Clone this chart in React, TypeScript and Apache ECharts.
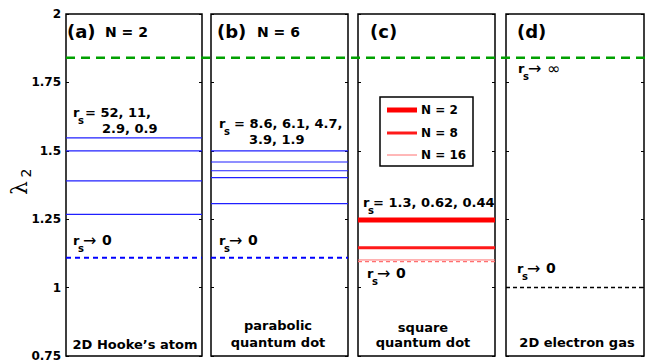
import React, { useEffect, useRef } from 'react';
import * as echarts from 'echarts';

// ---- data ----
const hookeLevels = [1.547, 1.5, 1.39, 1.268];
const parabolicLevels = [1.5, 1.459, 1.427, 1.402, 1.307];
const squareLevels = [1.247, 1.146, 1.101];
const squareNames = ['N = 2', 'N = 8', 'N = 16'];
const smallRsLimits = [1.109, 1.109, 1.095, 1.0];
const largeRsLimit = 1.84;
const yMin = 0.75;
const yMax = 2;
const yStep = 0.25;

// ---- layout / style ----
const panelLeft = [66, 211, 358, 506];
const panelWidth = [136, 137, 137, 138];
const TOP = 14;
const HEIGHT = 342;
const squareWidths = [5, 3, 1];
const squareColors = ['#ff0000', '#ff1a1a', '#ff7070'];
const FONT = 'DejaVu Sans';

function hline(gridIndex: number, v: number, color: string, width: number, type: any, z = 2) {
  return {
    type: 'line',
    xAxisIndex: gridIndex,
    yAxisIndex: gridIndex * 2,
    data: [[0, v], [1, v]],
    symbol: 'none',
    silent: true,
    z,
    lineStyle: { color, width, type },
  };
}

function txt(x: number, y: number, text: string, size = 13, extra: any = {}) {
  return {
    type: 'text',
    x,
    y,
    z: 100,
    style: {
      text,
      fontFamily: FONT,
      fontWeight: 'bold',
      fontSize: size,
      fill: '#000',
      align: 'left',
      verticalAlign: 'middle',
      ...extra,
    },
  };
}

function rs(x: number, y: number) {
  return [txt(x, y, 'r', 13), txt(x + 5, y + 8, 's', 10)];
}

function arrowTo(x: number, y: number, target: string, targetSize = 14, bold = true) {
  return [
    ...rs(x, y),
    txt(x + 10, y, '→', 16, { fontWeight: 'normal' }),
    txt(x + 29, y, target, targetSize, { fontWeight: bold ? 'bold' : 'normal' }),
  ];
}

export default function App() {
  const ref = useRef<HTMLDivElement>(null);

  useEffect(() => {
    document.body.style.margin = '0';
    if (!ref.current) return;
    const chart = echarts.init(ref.current, undefined, { renderer: 'svg' });

    const grids: any[] = [];
    const xAxes: any[] = [];
    const yAxes: any[] = [];
    for (let i = 0; i < 4; i++) {
      grids.push({
        left: panelLeft[i],
        top: TOP,
        width: panelWidth[i],
        height: HEIGHT,
        show: true,
        borderColor: '#000',
        borderWidth: 1.5,
        backgroundColor: 'transparent',
      });
      xAxes.push({ type: 'value', gridIndex: i, min: 0, max: 1, show: false });
      const base = {
        type: 'value',
        gridIndex: i,
        min: yMin,
        max: yMax,
        interval: yStep,
        splitLine: { show: false },
        axisLine: { show: false },
        axisTick: { show: true, inside: true, length: 3, lineStyle: { color: '#000', width: 1 } },
      };
      yAxes.push({
        ...base,
        position: 'left',
        axisLabel: {
          show: i === 0,
          color: '#000',
          fontFamily: FONT,
          fontWeight: 'bold',
          fontSize: 12,
          margin: 5,
        },
      });
      yAxes.push({ ...base, position: 'right', axisLabel: { show: false } });
    }
    // overlay grid for the line spanning all panels
    grids.push({ left: 66, top: TOP, width: 580, height: HEIGHT, show: false });
    xAxes.push({ type: 'value', gridIndex: 4, min: 0, max: 1, show: false });
    yAxes.push({ type: 'value', gridIndex: 4, min: yMin, max: yMax, show: false });

    const series: any[] = [];
    hookeLevels.forEach((v) => series.push(hline(0, v, '#2020ff', 1.2, 'solid')));
    parabolicLevels.forEach((v) => series.push(hline(1, v, '#2020ff', 1.2, 'solid')));
    squareLevels.forEach((v, k) =>
      series.push({ ...hline(2, v, squareColors[k], squareWidths[k], 'solid'), name: squareNames[k] })
    );
    series.push(hline(0, smallRsLimits[0], '#0000ff', 2, [5, 4]));
    series.push(hline(1, smallRsLimits[1], '#0000ff', 2, [5, 4]));
    series.push(hline(2, smallRsLimits[2], '#ff7070', 1.2, [4, 3]));
    series.push(hline(3, smallRsLimits[3], '#000000', 1.5, [4, 3]));
    series.push({
      type: 'line',
      xAxisIndex: 4,
      yAxisIndex: 8,
      data: [[0, largeRsLimit], [1, largeRsLimit]],
      symbol: 'none',
      silent: true,
      z: 3,
      lineStyle: { color: '#00a000', width: 2.5, type: [9, 6] },
    });

    const legendY = [110, 133, 155];
    const graphic: any[] = [
      // y-axis title
      {
        type: 'text', x: 19, y: 188, rotation: Math.PI / 2, z: 100,
        style: { text: 'λ', fontFamily: 'DejaVu Serif', fontSize: 22, fill: '#000', align: 'center', verticalAlign: 'middle' },
      },
      {
        type: 'text', x: 26, y: 173, rotation: Math.PI / 2, z: 100,
        style: { text: '2', fontFamily: FONT, fontSize: 14, fill: '#000', align: 'center', verticalAlign: 'middle' },
      },
      // panel headers
      txt(67, 31, '(a)', 18), txt(105, 32, 'N = 2', 14),
      txt(217, 31, '(b)', 18), txt(257, 32, 'N = 6', 14),
      txt(370, 31, '(c)', 18),
      txt(517, 31, '(d)', 18),
      // panel a
      ...rs(73, 112), txt(85, 112, '= 52, 11,'), txt(102, 128, '2.9, 0.9'),
      ...arrowTo(73, 240, '0'),
      txt(135, 344, '2D Hooke’s atom', 13, { align: 'center' }),
      // panel b
      ...rs(219, 123), txt(234, 123, '= 8.6, 6.1, 4.7,'), txt(249, 139, '3.9, 1.9'),
      ...arrowTo(219, 240, '0'),
      txt(278, 325, 'parabolic', 13, { align: 'center' }),
      txt(278, 342, 'quantum dot', 13, { align: 'center' }),
      // panel c
      ...rs(363, 202), txt(373, 202, '= 1.3, 0.62, 0.44'),
      ...arrowTo(367, 273, '0'),
      txt(423, 327, 'square', 13, { align: 'center' }),
      txt(423, 342, 'quantum dot', 13, { align: 'center' }),
      // legend box
      {
        type: 'rect', z: 90,
        shape: { x: 380, y: 97, width: 93, height: 69 },
        style: { fill: '#fff', stroke: '#000', lineWidth: 1.5 },
      },
      ...squareNames.map((n, k) => ({
        type: 'line', z: 95,
        shape: { x1: 387, y1: legendY[k], x2: 417, y2: legendY[k] },
        style: { stroke: squareColors[k], lineWidth: squareWidths[k] },
      })),
      ...squareNames.map((n, k) => txt(421, legendY[k], n, 12)),
      // panel d
      ...arrowTo(518, 68, '∞', 16, false),
      ...arrowTo(517, 268, '0'),
      txt(577, 342, '2D electron gas', 13, { align: 'center' }),
    ];

    chart.setOption({
      animation: false,
      backgroundColor: '#fff',
      grid: grids,
      xAxis: xAxes,
      yAxis: yAxes,
      series,
      graphic,
    });

    return () => chart.dispose();
  }, []);

  return <div ref={ref} style={{ width: 647, height: 362 }} />;
}
